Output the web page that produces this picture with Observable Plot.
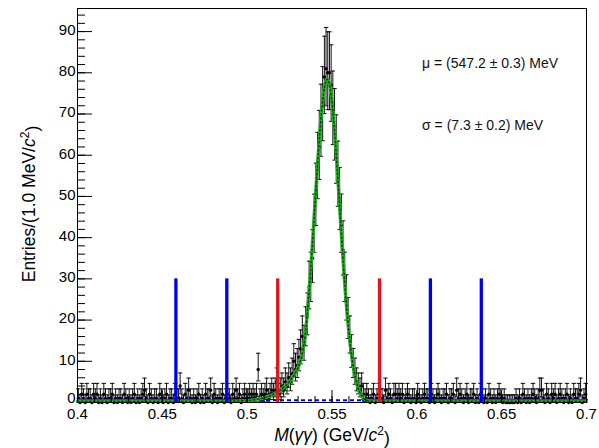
<!DOCTYPE html>
<html><head><meta charset="utf-8">
<script src="https://cdn.jsdelivr.net/npm/d3@7"></script>
<script src="https://cdn.jsdelivr.net/npm/@observablehq/plot@0.6"></script>
<style>body{margin:0;background:#fff}</style>
</head><body><div id="chart"></div>
<script>
// histogram: 1 MeV bins from 0.400 to 0.700 GeV
const binLow = 0.400, binWidth = 0.001;
const counts = [
1,0,2,1,0,2,1,1,0,2, 1,2,0,1,0,2,1,0,1,1, 2,0,1,0,1,1,0,2,1,0, 1,0,1,2,0,1,0,1,2,3,
1,0,2,1,0,1,1,0,2,1, 0,1,2,0,1,1,0,2,1,1, 4,1,0,2,1,3,1,0,1,0, 1,2,0,1,0,2,1,1,3,0,
2,1,0,1,1,2,0,1,2,1, 0,2,1,3,1,2,0,1,2,1, 1,2,1,2,1,2,8,1,2,1, 2,3,1,2,3,2,3,5,2,3,
4,3,5,4,6,5,7,10,8,9, 11,13,16,14,18,21,28,30,35,43, 50,57,62,68,72,79,81,80,80,77,
71,67,61,55,49,43,37,30,25,20, 16,12,9,7,5,4,3,4,2,1, 2,1,0,1,2,0,1,2,1,1,
0,3,1,2,1,0,2,2,1,2, 1,2,0,1,2,1,0,1,1,0, 2,1,0,1,2,1,1,0,2,1, 0,1,2,1,0,1,1,2,0,1,
1,2,0,3,1,2,1,0,1,2, 0,1,1,2,0,1,0,2,1,0, 1,0,2,1,0,1,0,1,2,1, 0,1,0,0,0,0,0,0,1,0,
1,0,2,1,0,1,0,1,2,1, 0,1,3,3,1,0,2,1,0,2, 1,2,0,1,2,1,0,1,2,0, 1,0,2,1,1,2,3,0,1,2
];
// Poisson (Garwood) error limits for small counts
const poissonLo = [0,0.173,0.708,1.367,2.086,2.840,3.620,4.419,5.232,6.057,6.891];
const poissonHi = [1.841,3.300,4.638,5.918,7.163,8.382,9.584,10.77,11.95,13.11,14.27];

// fitted signal curve (green)
const fitX = [0.400,0.480,0.495,0.500,0.505,0.510,0.514,0.518,0.521,0.524,0.527,0.530,0.532,0.534,0.535,0.536,0.537,0.538,0.539,0.540,
  0.541,0.542,0.543,0.544,0.545,0.546,0.547,0.548,0.549,0.550,0.551,0.552,0.553,0.554,0.555,0.556,0.557,0.558,0.559,0.560,
  0.561,0.562,0.563,0.564,0.565,0.566,0.567,0.568,0.569,0.570,0.572,0.575,0.700];
const fitY = [0.3,0.3,0.35,0.45,0.7,1.1,1.7,2.5,3.5,4.6,6.2,8.4,10.8,15.5,19.6,24.5,29.7,35.5,41.8,48.3,
  54.7,60.9,66.5,71.3,75.0,77.4,78.5,78.0,76.2,72.9,68.5,63.2,57.3,50.9,44.4,38.0,31.9,26.3,21.3,16.9,
  13.1,10.1,7.6,5.6,4.0,2.8,2.0,1.3,0.9,0.6,0.35,0.3,0.3];
// total fit (black) in the low-mass tail
const totX = [0.480,0.490,0.500,0.505,0.510,0.515,0.518,0.521];
const totY = [0.6,0.8,1.1,1.4,1.8,2.4,2.9,3.6];
// background level and sideband segments (blue)
const bgLevel = 0.55;
const bgSolid = [{x1:0.400, x2:0.503}, {x1:0.568, x2:0.700}];
// selection cut lines
const cutHeight = 30;
const blueCuts = [0.458, 0.488, 0.608, 0.638];
const redCuts = [0.518, 0.578];
// tick values
const xMajor = [0.40,0.45,0.50,0.55,0.60,0.65,0.70];
const xMinor = d3.range(0,31).map(i => +(0.40 + i*0.01).toFixed(2));
const yMajor = [0,10,20,30,40,50,60,70,80,90];
const yMinor = d3.range(0,96,2);
// annotations
const notes = [
  {x:0.6031, y:82.3, text:"μ = (547.2 ± 0.3) MeV"},
  {x:0.6031, y:67.1, text:"σ = (7.3 ± 0.2) MeV"}
];

const bins = counts.map((n,i) => ({
  x: binLow + (i + 0.5) * binWidth,
  n,
  lo: n <= 10 ? poissonLo[n] : n - Math.sqrt(n),
  hi: n <= 10 ? poissonHi[n] : n + Math.sqrt(n) + 1
}));
const fit = fitX.map((x,i) => ({x, y: fitY[i]}));
const tot = totX.map((x,i) => ({x, y: totY[i]}));
const capSymbol = {draw(ctx, size){ const r = Math.sqrt(size/Math.PI); ctx.moveTo(-r,0); ctx.lineTo(r,0); }};
const font = "'Liberation Sans', Arial, Helvetica, sans-serif";

const svg = Plot.plot({
  width: 599, height: 448,
  marginLeft: 77, marginRight: 13, marginTop: 8, marginBottom: 46,
  style: {fontFamily: font, fontSize: "15px", color: "black", background: "white"},
  x: {domain: [0.4, 0.7], label: null, axis: null},
  y: {domain: [0, 95.6], label: null, axis: null},
  marks: [
    Plot.ruleX(bins, {x: "x", y1: "lo", y2: "hi", stroke: "#111", strokeWidth: 1}),
    Plot.dot(bins, {x: "x", y: "hi", r: 2.2, symbol: capSymbol, stroke: "#111", strokeWidth: 1, fill: "none"}),
    Plot.dot(bins, {x: "x", y: "lo", r: 2.2, symbol: capSymbol, stroke: "#111", strokeWidth: 1, fill: "none", filter: d => d.n > 0}),
    Plot.dot(bins, {x: "x", y: "n", r: 1.7, fill: "black", stroke: "none"}),
    Plot.ruleY(bgSolid, {y: bgLevel, x1: "x1", x2: "x2", stroke: "#0000f0", strokeWidth: 3}),
    Plot.ruleY([bgLevel], {x1: 0.4, x2: 0.7, stroke: "#0000f0", strokeWidth: 2, strokeDasharray: "4,3"}),
    Plot.line(tot, {x: "x", y: "y", stroke: "black", strokeWidth: 1.2}),
    Plot.line(fit, {x: "x", y: "y", stroke: "#25b325", strokeWidth: 3.5}),
    Plot.line(fit, {x: "x", y: "y", stroke: "#0f4a0f", strokeWidth: 1.6, strokeDasharray: "1.5,2.5"}),
    Plot.ruleX(blueCuts, {x: d => d, y1: 0, y2: cutHeight, stroke: "#0000f0", strokeWidth: 3.3}),
    Plot.ruleX(redCuts, {x: d => d, y1: 0, y2: cutHeight, stroke: "#e3141b", strokeWidth: 3.3}),
    Plot.text(notes, {x: "x", y: "y", text: "text", textAnchor: "start", lineAnchor: "middle", fontSize: 14, fill: "#111"}),
    Plot.axisX(xMajor, {tickSize: -12, tickFormat: () => "", label: null}),
    Plot.axisX(xMinor, {tickSize: -6, tickFormat: () => "", label: null}),
    Plot.axisX(xMajor, {tickSize: 0, tickPadding: 6, fontSize: 15, tickFormat: d => String(+d.toFixed(2)), label: null}),
    Plot.axisY(yMajor, {tickSize: -15, tickFormat: () => "", label: null}),
    Plot.axisY(yMinor, {tickSize: -8, tickFormat: () => "", label: null}),
    Plot.axisY(yMajor.filter(v => v > 0), {tickSize: 0, tickPadding: 2, fontSize: 15, dy: -1.5, label: null}),
    Plot.axisY(yMajor.filter(v => v === 0), {tickSize: 0, tickPadding: 2, fontSize: 15, dy: -4, label: null}),
    Plot.frame({stroke: "black", strokeWidth: 1})
  ]
});

const s = d3.select(svg);
// x axis title
const xt = s.append("text").attr("x", 332).attr("y", 441).attr("text-anchor", "middle")
  .attr("font-family", font).attr("font-size", 17.5).attr("fill", "black");
xt.append("tspan").attr("font-style", "italic").text("M");
xt.append("tspan").text("(");
xt.append("tspan").attr("font-style", "italic").text("γγ");
xt.append("tspan").text(") (GeV/");
xt.append("tspan").attr("font-style", "italic").text("c");
xt.append("tspan").attr("font-size", 12).attr("dy", "-0.5em").text("2");
xt.append("tspan").attr("dy", "0.5em").text(")");
// y axis title
const yt = s.append("text").attr("transform", "translate(35,204) rotate(-90)").attr("text-anchor", "middle")
  .attr("font-family", font).attr("font-size", 17.5).attr("fill", "black");
yt.append("tspan").text("Entries/(1.0 MeV/");
yt.append("tspan").attr("font-style", "italic").text("c");
yt.append("tspan").attr("font-size", 12).attr("dy", "-0.5em").text("2");
yt.append("tspan").attr("dy", "0.5em").text(")");

document.getElementById("chart").append(svg);
</script></body></html>
